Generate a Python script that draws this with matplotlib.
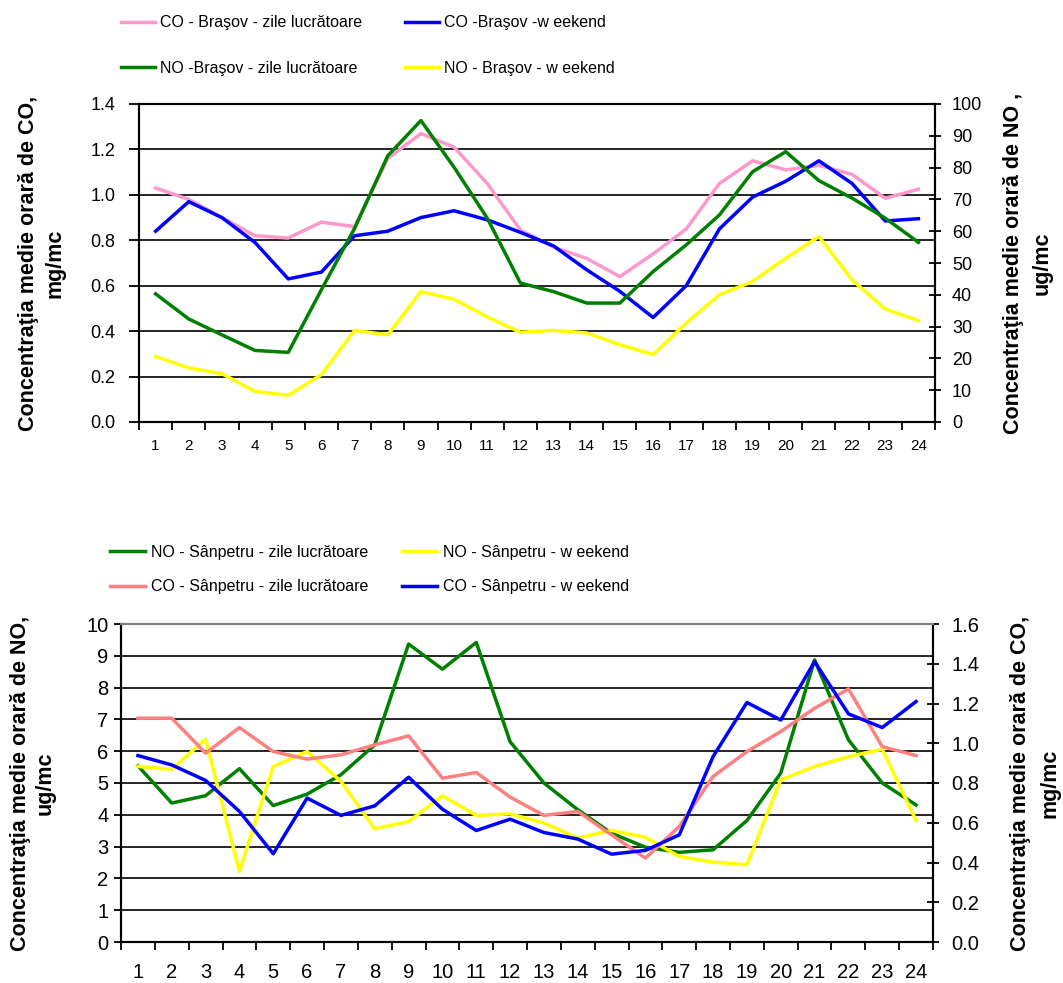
import matplotlib
matplotlib.use("Agg")
import matplotlib.pyplot as plt
from matplotlib.ticker import FixedLocator, MultipleLocator, FormatStrFormatter, NullFormatter

# hours of the day
hours = list(range(1, 25))

# Brasov: CO in mg/mc (left axis), NO in ug/mc (right axis)
co_bv_work = [1.03, 0.98, 0.90, 0.82, 0.81, 0.88, 0.86, 1.16, 1.27, 1.21, 1.05, 0.845,
              0.77, 0.72, 0.64, 0.74, 0.85, 1.05, 1.15, 1.11, 1.13, 1.09, 0.985, 1.025]
co_bv_wknd = [0.84, 0.97, 0.90, 0.79, 0.63, 0.66, 0.82, 0.84, 0.90, 0.93, 0.89, 0.835,
              0.775, 0.67, 0.575, 0.46, 0.60, 0.85, 0.99, 1.06, 1.15, 1.05, 0.885, 0.895]
no_bv_work = [40.3, 32.4, 27.4, 22.5, 21.9, 41.6, 60.9, 83.7, 94.8, 80.1, 64.1, 43.7,
              41.0, 37.4, 37.4, 47.3, 55.7, 65.1, 78.7, 85.0, 75.9, 70.4, 64.1, 56.5]
no_bv_wknd = [20.6, 17.0, 15.2, 9.6, 8.4, 14.9, 28.8, 27.4, 41.0, 38.6, 33.0, 28.2,
              28.8, 28.0, 24.3, 21.2, 31.1, 40.0, 44.2, 51.5, 58.3, 44.7, 35.5, 31.9]

# Sanpetru: NO in ug/mc (left axis), CO in mg/mc (right axis)
no_sp_work = [5.54, 4.37, 4.60, 5.45, 4.29, 4.65, 5.26, 6.20, 9.37, 8.58, 9.42, 6.30,
              5.00, 4.16, 3.42, 2.98, 2.82, 2.90, 3.82, 5.31, 8.87, 6.36, 5.00, 4.31]
no_sp_wknd = [5.52, 5.43, 6.38, 2.22, 5.52, 5.99, 5.05, 3.56, 3.79, 4.60, 3.98, 4.03,
              3.74, 3.27, 3.51, 3.29, 2.69, 2.51, 2.43, 5.10, 5.52, 5.83, 6.06, 3.82]
co_sp_work = [1.126, 1.126, 0.950, 1.079, 0.958, 0.920, 0.942, 0.992, 1.037, 0.824, 0.853, 0.729,
              0.637, 0.657, 0.539, 0.422, 0.581, 0.833, 0.958, 1.059, 1.176, 1.273, 0.983, 0.938]
co_sp_wknd = [0.938, 0.891, 0.813, 0.657, 0.444, 0.724, 0.637, 0.685, 0.829, 0.668, 0.561, 0.618,
              0.551, 0.518, 0.442, 0.461, 0.539, 0.933, 1.205, 1.117, 1.411, 1.148, 1.079, 1.210]

PINK = "#FF99CC"
SALMON = "#FF8080"
BLUE = "#0000FF"
GREEN = "#008000"
YELLOW = "#FFFF00"

W, H = 1063, 983
plt.rcParams['font.family'] = ['Liberation Sans', 'DejaVu Sans']
leg_fs = 11.5
lab_fs = 15.5

fig = plt.figure(figsize=(W / 100, H / 100), dpi=100)


def px_axes(left, top, right, bottom):
    return fig.add_axes([left / W, 1 - bottom / H, (right - left) / W, (bottom - top) / H])


def style_x(ax, fs, pad):
    ax.set_xlim(0.5, 24.5)
    ax.xaxis.set_major_locator(FixedLocator([h + 0.5 for h in range(0, 25)]))
    ax.xaxis.set_major_formatter(NullFormatter())
    ax.set_xticks(hours, [str(h) for h in hours], minor=True)
    ax.tick_params(axis='x', which='major', direction='out', length=5.5, width=1.3)
    ax.tick_params(axis='x', which='minor', length=0, pad=pad, labelsize=fs)


def add_key(line, x, y, hl_px, pad_px):
    em = leg_fs * 100 / 72
    fig.legend([line], [line.get_label()], loc='center left',
               bbox_to_anchor=(x / W, 1 - y / H), frameon=False,
               borderpad=0, borderaxespad=0,
               handlelength=hl_px / em, handletextpad=pad_px / em,
               fontsize=leg_fs)


# ---------------- upper chart: Brasov ----------------
ax = px_axes(139, 104, 935, 422)
ax2 = ax.twinx()
lw = 2.5

l_pink, = ax.plot(hours, co_bv_work, color=PINK, lw=lw, label="CO - Braşov - zile lucrătoare")
l_blue, = ax.plot(hours, co_bv_wknd, color=BLUE, lw=lw, label="CO -Braşov -w eekend")
l_green, = ax2.plot(hours, no_bv_work, color=GREEN, lw=lw, label="NO -Braşov - zile lucrătoare")
l_yel, = ax2.plot(hours, no_bv_wknd, color=YELLOW, lw=lw, label="NO - Braşov - w eekend")

ax.set_ylim(0, 1.4)
ax.yaxis.set_major_locator(MultipleLocator(0.2))
ax.yaxis.set_major_formatter(FormatStrFormatter('%.1f'))
ax2.set_ylim(0, 100)
ax2.yaxis.set_major_locator(MultipleLocator(10))
ax.grid(axis='y', color='black', lw=1.2)
ax.set_axisbelow(True)
style_x(ax, 11, 12)
ax.tick_params(axis='y', direction='out', length=7, width=1.3, pad=10, labelsize=13)
ax2.tick_params(axis='y', direction='inout', length=8.5, width=1.3, pad=8, labelsize=13)
for a in (ax, ax2):
    for s in a.spines.values():
        s.set_linewidth(1.5)

ax.set_ylabel("Concentraţia medie orară de CO,\nmg/mc", fontsize=lab_fs, fontweight='bold',
              linespacing=1.35)
ax.yaxis.set_label_coords(-0.092, 0.5)
ax2.set_ylabel("Concentraţia medie orară de NO ,\nug/mc", fontsize=lab_fs, fontweight='bold',
               linespacing=1.5)
ax2.yaxis.set_label_coords(1.085, 0.5)

add_key(l_pink, 121, 23, 34, 5)
add_key(l_green, 121, 68, 34, 5)
add_key(l_blue, 405, 23, 34, 5)
add_key(l_yel, 405, 68, 34, 5)

# ---------------- lower chart: Sanpetru ----------------
bx = px_axes(121, 624, 933, 942)
bx2 = bx.twinx()

m_green, = bx.plot(hours, no_sp_work, color=GREEN, lw=lw, label="NO - Sânpetru - zile lucrătoare")
m_yel, = bx.plot(hours, no_sp_wknd, color=YELLOW, lw=lw, label="NO - Sânpetru - w eekend")
m_pink, = bx2.plot(hours, co_sp_work, color=SALMON, lw=lw, label="CO - Sânpetru - zile lucrătoare")
m_blue, = bx2.plot(hours, co_sp_wknd, color=BLUE, lw=lw, label="CO - Sânpetru - w eekend")

bx.set_ylim(0, 10)
bx.yaxis.set_major_locator(MultipleLocator(1))
bx2.set_ylim(0, 1.6)
bx2.yaxis.set_major_locator(MultipleLocator(0.2))
bx2.yaxis.set_major_formatter(FormatStrFormatter('%.1f'))
bx.grid(axis='y', color='black', lw=1.2)
bx.set_axisbelow(True)
style_x(bx, 14.5, 15)
bx.tick_params(axis='y', direction='out', length=5, width=1.3, pad=4, labelsize=14.5)
bx2.tick_params(axis='y', direction='inout', length=8.5, width=1.3, pad=9, labelsize=14.5)
for a in (bx, bx2):
    for s in a.spines.values():
        s.set_linewidth(1.5)
    a.spines['top'].set_color('#808080')

bx.set_ylabel("Concentraţia medie orară de NO,\nug/mc", fontsize=lab_fs, fontweight='bold',
              linespacing=1.2)
bx.yaxis.set_label_coords(-0.081, 0.5)
bx2.set_ylabel("Concentraţia medie orară de CO,\nmg/mc", fontsize=lab_fs, fontweight='bold',
               linespacing=1.5)
bx2.yaxis.set_label_coords(1.095, 0.5)

add_key(m_green, 110, 552, 35, 6)
add_key(m_pink, 110, 587, 35, 6)
add_key(m_yel, 402, 552, 35, 6)
add_key(m_blue, 402, 587, 35, 6)

fig.savefig("out.png", dpi=100)
